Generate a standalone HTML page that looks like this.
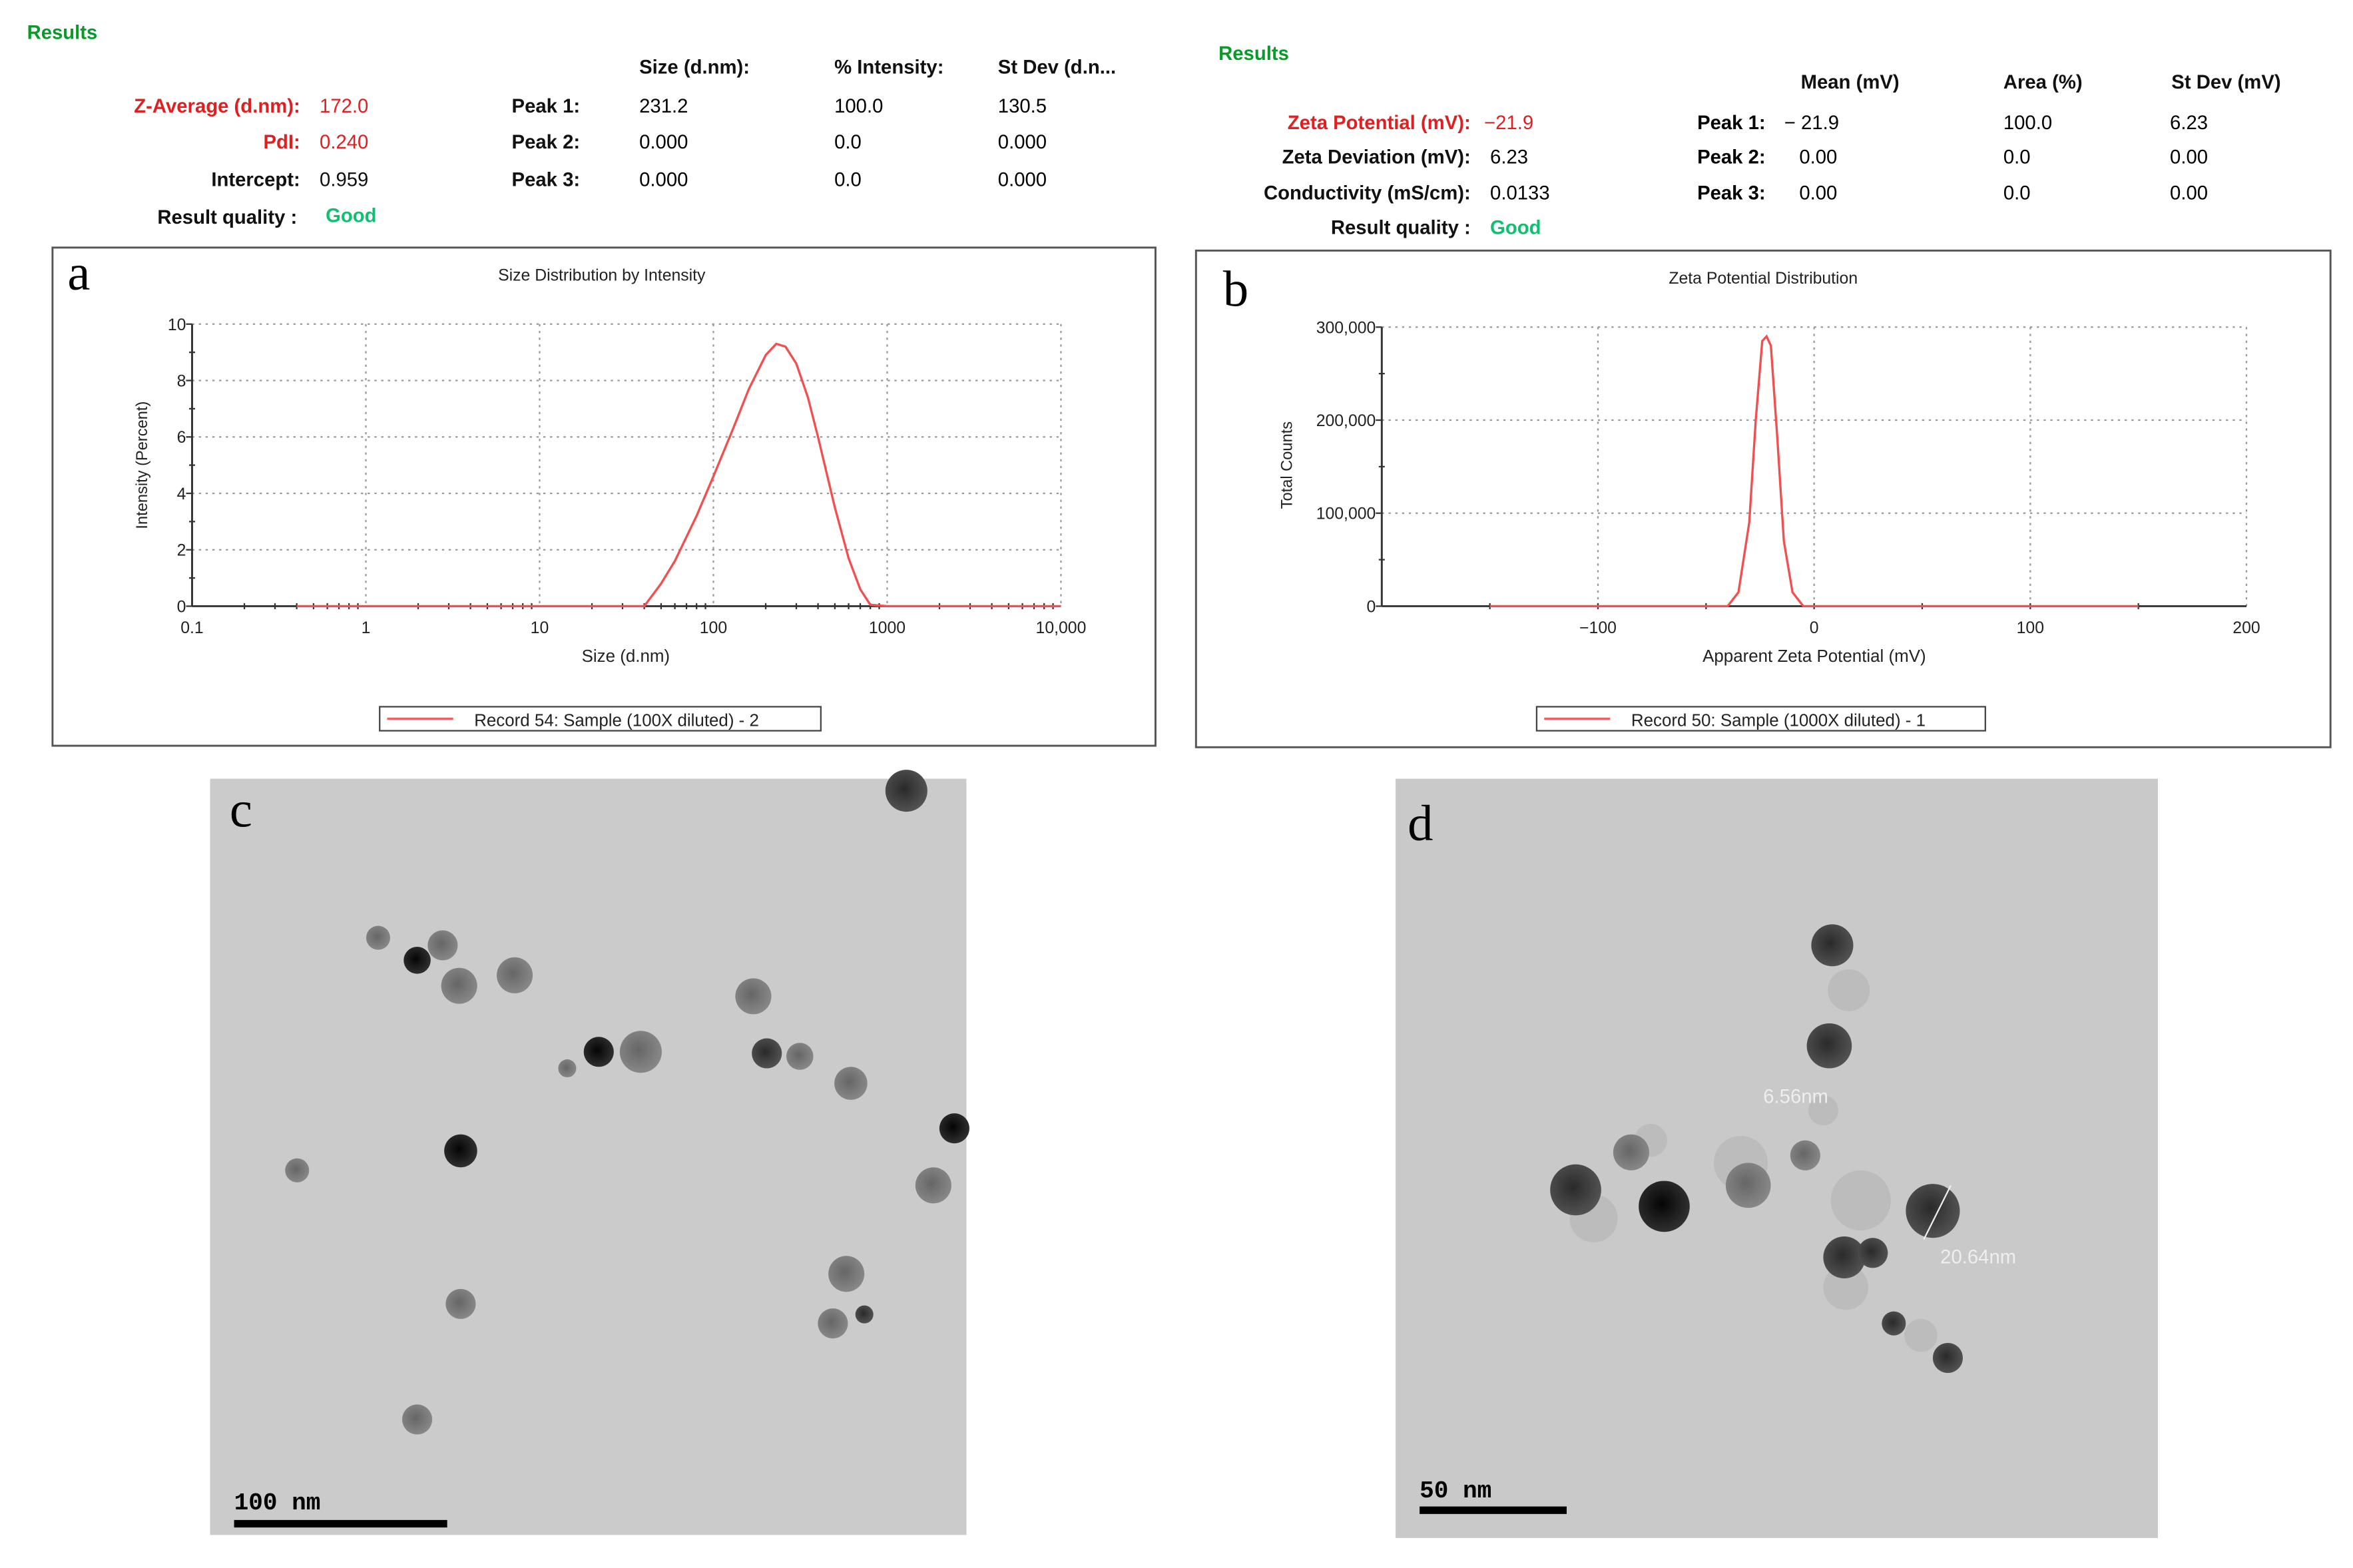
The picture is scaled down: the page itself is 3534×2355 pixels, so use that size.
<!DOCTYPE html>
<html><head><meta charset="utf-8"><style>
html,body{margin:0;padding:0;background:#fff;}
svg{display:block;}
text{font-family:"Liberation Sans",Arial,sans-serif;}
</style></head><body>
<svg id="fig" width="3534" height="2355" viewBox="0 0 1568 1045" preserveAspectRatio="none" xmlns="http://www.w3.org/2000/svg">
<defs>
<radialGradient id="pg" cx="45%" cy="45%" r="60%"><stop offset="0" stop-color="#666"/><stop offset="1" stop-color="#8a8a8a"/></radialGradient>
<radialGradient id="pk" cx="45%" cy="45%" r="60%"><stop offset="0" stop-color="#050505"/><stop offset="1" stop-color="#333"/></radialGradient>
<radialGradient id="pd" cx="45%" cy="45%" r="60%"><stop offset="0" stop-color="#2a2a2a"/><stop offset="1" stop-color="#555"/></radialGradient>
</defs>
<g font-size="13" font-weight="bold">
<text x="18" y="26" fill="#0a9a2a">Results</text>
<text x="426" y="49" fill="#111">Size (d.nm):</text>
<text x="556" y="49" fill="#111">% Intensity:</text>
<text x="665" y="49" fill="#111">St Dev (d.n...</text>
<text x="200" y="75" text-anchor="end" fill="#e02020">Z-Average (d.nm):</text>
<text x="213" y="75" fill="#e02020" font-weight="normal">172.0</text>
<text x="200" y="99" text-anchor="end" fill="#e02020">PdI:</text>
<text x="213" y="99" fill="#e02020" font-weight="normal">0.240</text>
<text x="200" y="124" text-anchor="end" fill="#111">Intercept:</text>
<text x="213" y="124" fill="#111" font-weight="normal">0.959</text>
<text x="198" y="149" text-anchor="end" fill="#111">Result quality :</text>
<text x="217" y="148" fill="#10c070">Good</text>
<text x="341" y="75" fill="#111">Peak 1:</text><text x="426" y="75" font-weight="normal">231.2</text><text x="556" y="75" font-weight="normal">100.0</text><text x="665" y="75" font-weight="normal">130.5</text>
<text x="341" y="99" fill="#111">Peak 2:</text><text x="426" y="99" font-weight="normal">0.000</text><text x="556" y="99" font-weight="normal">0.0</text><text x="665" y="99" font-weight="normal">0.000</text>
<text x="341" y="124" fill="#111">Peak 3:</text><text x="426" y="124" font-weight="normal">0.000</text><text x="556" y="124" font-weight="normal">0.0</text><text x="665" y="124" font-weight="normal">0.000</text>
</g>
<g font-size="13" font-weight="bold">
<text x="812" y="40" fill="#0a9a2a">Results</text>
<text x="1200" y="59" fill="#111">Mean (mV)</text>
<text x="1335" y="59" fill="#111">Area (%)</text>
<text x="1447" y="59" fill="#111">St Dev (mV)</text>
<text x="980" y="86" text-anchor="end" fill="#e02020">Zeta Potential (mV):</text>
<text x="989" y="86" fill="#e02020" font-weight="normal">−21.9</text>
<text x="980" y="109" text-anchor="end" fill="#111">Zeta Deviation (mV):</text>
<text x="993" y="109" font-weight="normal">6.23</text>
<text x="980" y="133" text-anchor="end" fill="#111">Conductivity (mS/cm):</text>
<text x="993" y="133" font-weight="normal">0.0133</text>
<text x="980" y="156" text-anchor="end" fill="#111">Result quality :</text>
<text x="993" y="156" fill="#10c070">Good</text>
<text x="1131" y="86">Peak 1:</text><text x="1189" y="86" font-weight="normal">− 21.9</text><text x="1335" y="86" font-weight="normal">100.0</text><text x="1446" y="86" font-weight="normal">6.23</text>
<text x="1131" y="109">Peak 2:</text><text x="1199" y="109" font-weight="normal">0.00</text><text x="1335" y="109" font-weight="normal">0.0</text><text x="1446" y="109" font-weight="normal">0.00</text>
<text x="1131" y="133">Peak 3:</text><text x="1199" y="133" font-weight="normal">0.00</text><text x="1335" y="133" font-weight="normal">0.0</text><text x="1446" y="133" font-weight="normal">0.00</text>
</g>
<g id="panelA">
<rect x="35" y="165" width="735" height="332" fill="none" stroke="#555" stroke-width="1.3"/>
<text x="45" y="193" font-size="34" style="font-family:'Liberation Serif',serif">a</text>
<text x="401" y="187" font-size="11" text-anchor="middle" fill="#222">Size Distribution by Intensity</text>
<text x="417" y="441" font-size="11.5" text-anchor="middle" fill="#222">Size (d.nm)</text>
<text transform="translate(98,310) rotate(-90)" font-size="10.5" text-anchor="middle" fill="#222">Intensity (Percent)</text>
<rect x="253" y="471" width="294" height="16" fill="#fff" stroke="#444"/>
<line x1="258" y1="479" x2="302" y2="479" stroke="#f06060" stroke-width="1.5"/>
<text x="316" y="484" font-size="11.5" fill="#222">Record 54: Sample (100X diluted) - 2</text>
</g>
<g id="panelB">
<rect x="797" y="167" width="756" height="331" fill="none" stroke="#555" stroke-width="1.3"/>
<text x="815" y="204" font-size="34" style="font-family:'Liberation Serif',serif">b</text>
<text x="1175" y="189" font-size="11" text-anchor="middle" fill="#222">Zeta Potential Distribution</text>
<text x="1209" y="441" font-size="11.5" text-anchor="middle" fill="#222">Apparent Zeta Potential (mV)</text>
<text transform="translate(861,310) rotate(-90)" font-size="10.5" text-anchor="middle" fill="#222">Total Counts</text>
<rect x="1024" y="471" width="299" height="16" fill="#fff" stroke="#444"/>
<line x1="1029" y1="479" x2="1073" y2="479" stroke="#f06060" stroke-width="1.5"/>
<text x="1087" y="484" font-size="11.5" fill="#222">Record 50: Sample (1000X diluted) - 1</text>
</g>
<g id="tem"></g>
</svg>
<script>
const NS='http://www.w3.org/2000/svg';
const sizeTicks=[0.1,1,10,100,1000,10000];
const sizeTickLabels=['0.1','1','10','100','1000','10,000'];
const intensityTicks=[0,2,4,6,8,10];
const sizeValues=[0.4,40,50,60,80,100,130,160,200,230,260,300,350,400,500,600,700,800,1000,10000];
const intensityValues=[0,0,0.8,1.6,3.2,4.6,6.3,7.7,8.9,9.3,9.2,8.6,7.4,6.0,3.5,1.7,0.6,0.05,0,0];
const zetaTicks=[-100,0,100,200];
const zetaTickLabels=['−100','0','100','200'];
const countTicks=[0,100000,200000,300000];
const countTickLabels=['0','100,000','200,000','300,000'];
const zetaValues=[-150,-40,-35,-30,-27,-24,-22,-20,-17,-14,-10,-5,150];
const countValues=[0,0,15000,90000,200000,285000,290000,280000,180000,70000,15000,0,0];

function mk(tag,attrs,parent){const e=document.createElementNS(NS,tag);for(const k in attrs)e.setAttribute(k,attrs[k]);parent.appendChild(e);return e;}
const A={x0:128,x1:707,y0:404,y1:216};
const ax=v=>A.x0+(Math.log10(v)+1)/5*(A.x1-A.x0);
const ay=v=>A.y0-v/10*(A.y0-A.y1);
const gA=document.getElementById('panelA');
sizeTicks.forEach((t,i)=>{
  const l=mk('line',{x1:ax(t),x2:ax(t),y1:A.y1,y2:A.y0,stroke:'#999','stroke-dasharray':'1.5,3'},gA);
  
  
  const tx=mk('text',{x:ax(t),y:422,'font-size':11,'text-anchor':'middle',fill:'#222'},gA);tx.textContent=sizeTickLabels[i];
  
  
  if(i<5)for(let m=2;m<10;m++){mk('line',{x1:ax(t*m),x2:ax(t*m),y1:A.y0-2,y2:A.y0+2,stroke:'#333'},gA);}
});
intensityTicks.forEach(t=>{
  mk('line',{x1:A.x0,x2:A.x1,y1:ay(t),y2:ay(t),stroke:'#999','stroke-dasharray':'1.5,3'},gA);
  mk('line',{x1:A.x0-4,x2:A.x0,y1:ay(t),y2:ay(t),stroke:'#333'},gA);
  if(t<10)mk('line',{x1:A.x0-2,x2:A.x0+2,y1:ay(t+1),y2:ay(t+1),stroke:'#333'},gA);
  const tx=mk('text',{x:A.x0-4,y:ay(t)+4,'font-size':11,'text-anchor':'end',fill:'#222'},gA);tx.textContent=t;
  
  
});
mk('line',{x1:A.x0,x2:A.x0,y1:A.y1,y2:A.y0,stroke:'#333','stroke-width':1.3},gA);
mk('line',{x1:A.x0,x2:A.x1,y1:A.y0,y2:A.y0,stroke:'#333','stroke-width':1.3},gA);
const pa=mk('polyline',{points:sizeValues.map((v,i)=>ax(v)+','+ay(intensityValues[i])).join(' '),fill:'none',stroke:'#f05050','stroke-width':1.5},gA);


const B={x0:920.8,x1:1497,y0:404,y1:218};
const bx=v=>B.x0+(v+200)/400*(B.x1-B.x0);
const by=v=>B.y0-v/300000*(B.y0-B.y1);
const gB=document.getElementById('panelB');
zetaTicks.forEach((t,i)=>{
  mk('line',{x1:bx(t),x2:bx(t),y1:B.y1,y2:B.y0,stroke:'#999','stroke-dasharray':'1.5,3'},gB);
  const tx=mk('text',{x:bx(t),y:422,'font-size':11,'text-anchor':'middle',fill:'#222'},gB);tx.textContent=zetaTickLabels[i];
  
  
});
for(let v=-150;v<=150;v+=50)mk('line',{x1:bx(v),x2:bx(v),y1:B.y0-2,y2:B.y0+2,stroke:'#333'},gB);
countTicks.forEach((t,i)=>{
  mk('line',{x1:B.x0,x2:B.x1,y1:by(t),y2:by(t),stroke:'#999','stroke-dasharray':'1.5,3'},gB);
  mk('line',{x1:B.x0-4,x2:B.x0,y1:by(t),y2:by(t),stroke:'#333'},gB);
  if(t<300000)mk('line',{x1:B.x0-2,x2:B.x0+2,y1:by(t+50000),y2:by(t+50000),stroke:'#333'},gB);
  const tx=mk('text',{x:B.x0-4,y:by(t)+4,'font-size':11,'text-anchor':'end',fill:'#222'},gB);tx.textContent=countTickLabels[i];
  
  
});
mk('line',{x1:B.x0,x2:B.x0,y1:B.y1,y2:B.y0,stroke:'#333','stroke-width':1.3},gB);
mk('line',{x1:B.x0,x2:B.x1,y1:B.y0,y2:B.y0,stroke:'#333','stroke-width':1.3},gB);
const pb=mk('polyline',{points:zetaValues.map((v,i)=>bx(v)+','+by(countValues[i])).join(' '),fill:'none',stroke:'#f05050','stroke-width':1.5},gB);


const g=document.getElementById('tem');
const c=mk('rect',{x:140,y:519,width:504,height:504,fill:'#cbcbcb'},g);


const d=mk('rect',{x:930,y:519,width:508,height:506,fill:'#c9c9c9'},g);


const halo=[[1232,660,14],[1215,740,10],[1100,760,11],[1160,775,18],[1062,812,16],[1240,800,20],[1230,858,15],[1280,890,11]];
halo.forEach(p=>mk('circle',{cx:p[0],cy:p[1],r:p[2],fill:'#bcbcbc'},g));
const parts=[[604,527,14,'pd'],[252,625,8,'pg'],[295,630,10,'pg'],[278,640,9,'pk'],[306,657,12,'pg'],[343,650,12,'pg'],[502,664,12,'pg'],[399,701,10,'pk'],[427,701,14,'pg'],[378,712,6,'pg'],[511,702,10,'pd'],[533,704,9,'pg'],[567,722,11,'pg'],[636,752,10,'pk'],[307,767,11,'pk'],[198,780,8,'pg'],[622,790,12,'pg'],[564,849,12,'pg'],[307,869,10,'pg'],[555,882,10,'pg'],[576,876,6,'pd'],[278,946,10,'pg'],
[1221,630,14,'pd'],[1219,697,15,'pd'],[1050,793,17,'pd'],[1087,768,12,'pg'],[1109,804,17,'pk'],[1165,790,15,'pg'],[1203,770,10,'pg'],[1288,807,18,'pd'],[1229,838,14,'pd'],[1248,835,10,'pd'],[1262,882,8,'pd'],[1298,905,10,'pd']];
parts.forEach(p=>{mk('circle',{cx:p[0],cy:p[1],r:p[2],fill:'url(#'+p[3]+')'},g);});
mk('text',{x:1175,y:735,'font-size':13,fill:'#eee'},g).textContent='6.56nm';
mk('text',{x:1293,y:842,'font-size':13,fill:'#eee'},g).textContent='20.64nm';
mk('line',{x1:1300,y1:790,x2:1282,y2:826,stroke:'#eee','stroke-width':1},g);
[[153,551,'c'],[938,560,'d']].forEach(l=>{const t=mk('text',{x:l[0],y:l[1],'font-size':34,style:"font-family:'Liberation Serif',serif"},g);t.textContent=l[2];

});
mk('text',{x:156,y:1006,'font-size':16,'font-weight':'bold',style:"font-family:'Liberation Mono',monospace"},g).textContent='100 nm';
mk('rect',{x:156,y:1013,width:142,height:5,fill:'#000'},g);
mk('text',{x:946,y:998,'font-size':16,'font-weight':'bold',style:"font-family:'Liberation Mono',monospace"},g).textContent='50 nm';
mk('rect',{x:946,y:1004,width:98,height:5,fill:'#000'},g);
</script>
</body></html>
